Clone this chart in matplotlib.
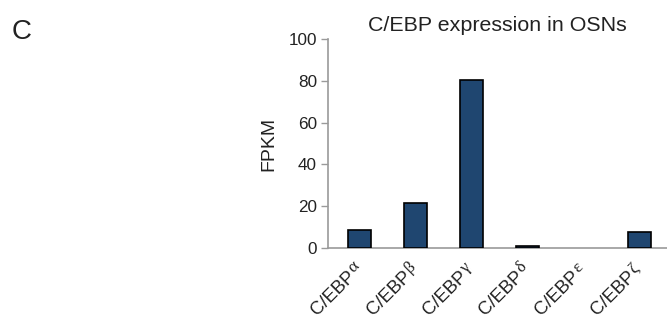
import matplotlib
matplotlib.use("Agg")
import matplotlib.pyplot as plt
import matplotlib.transforms as mtransforms
import numpy as np

plt.rcParams['font.family'] = ['Liberation Sans', 'DejaVu Sans']

prefix = "C/EBP"
greek = ["\u03b1", "\u03b2", "\u03b3", "\u03b4", "\u03b5", "\u03b6"]
fpkm = [8.8, 21.5, 80.2, 1.1, 0.0, 7.5]
yticks = [0, 20, 40, 60, 80, 100]

fig = plt.figure(figsize=(6.67, 3.2), dpi=100)
ax = fig.add_axes([0.492, 0.225, 0.508, 0.653])

x = np.arange(len(greek))
edges = ["black" if v > 0 else "none" for v in fpkm]
ax.bar(x, fpkm, width=0.41, color="#1F4670", edgecolor=edges, linewidth=1.2, zorder=3)

ax.set_xlim(-0.55, 5.49)
ax.set_ylim(0, 100)
ax.set_yticks(yticks)
ax.set_yticklabels([str(v) for v in yticks], fontsize=12.3, color="#222222")
ax.set_xticks(x)
ax.set_xticklabels([])
ax.tick_params(axis="x", length=0)
ax.tick_params(axis="y", length=5, width=1, color="#9a9a9a", direction="out", pad=3)

for side in ("top", "right"):
    ax.spines[side].set_visible(False)
for side in ("left", "bottom"):
    ax.spines[side].set_color("#9a9a9a")
    ax.spines[side].set_linewidth(1.2)

# category labels: sans "C/EBP" followed by a raised serif Greek letter, rotated
rot = 45
ang = np.deg2rad(rot)
base = ax.get_xaxis_transform()
dx, dy = -3, -29          # anchor offset (pixels) from the tick position on the axis
rise = 4.5                # baseline lift of the Greek letter (pixels)
gap = 1                   # spacing before the Greek letter (pixels)
for xi, g in zip(x, greek):
    t1 = mtransforms.offset_copy(base, fig=fig, x=dx, y=dy, units="dots")
    ax.text(xi, 0, prefix, transform=t1, rotation=rot, rotation_mode="anchor",
            ha="right", va="baseline", fontsize=13.3, color="#222222", clip_on=False)
    t2 = mtransforms.offset_copy(base, fig=fig,
                                 x=dx - rise * np.sin(ang) + gap * np.cos(ang),
                                 y=dy + rise * np.cos(ang) + gap * np.sin(ang),
                                 units="dots")
    ax.text(xi, 0, g, transform=t2, rotation=rot, rotation_mode="anchor",
            ha="left", va="baseline", fontsize=12.5, color="#222222",
            family=["Liberation Serif", "DejaVu Serif"], clip_on=False)

ax.set_ylabel("FPKM", fontsize=14, color="#222222", labelpad=8)
ax.set_title("C/EBP expression in OSNs", fontsize=15.4, color="#222222", pad=6)

fig.text(0.018, 0.878, "C", fontsize=20, color="#222222")

fig.savefig("out.png", dpi=100)
